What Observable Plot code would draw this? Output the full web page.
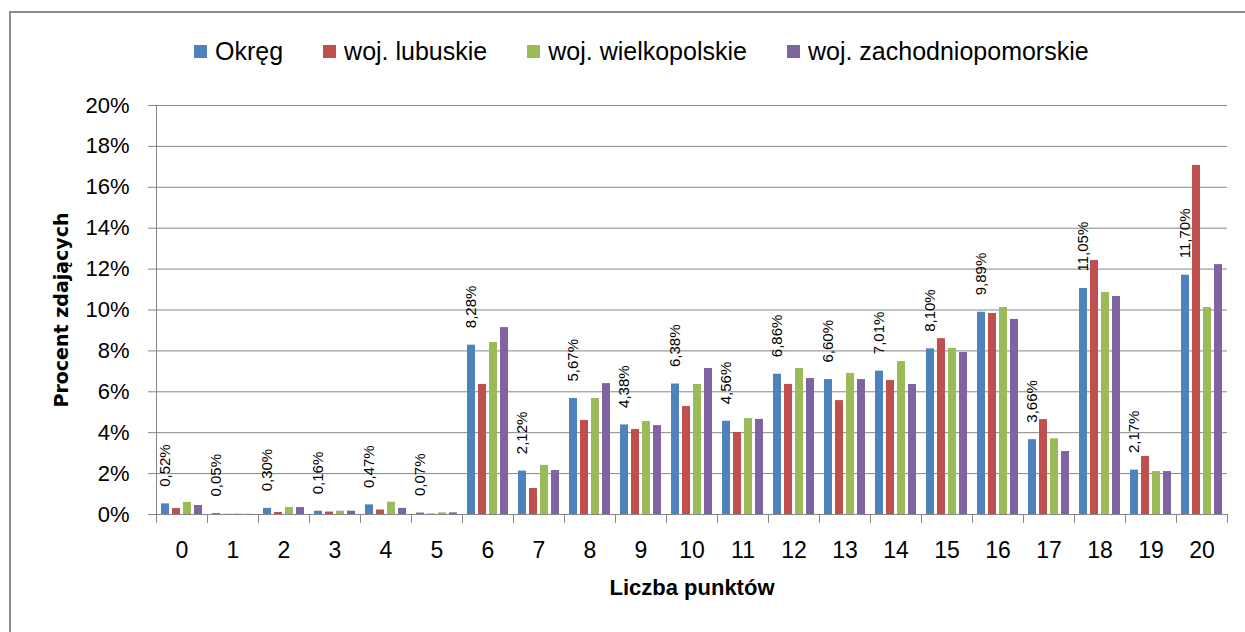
<!DOCTYPE html>
<html><head><meta charset="utf-8">
<script src="https://cdn.jsdelivr.net/npm/d3@7"></script>
<script src="https://cdn.jsdelivr.net/npm/@observablehq/plot@0.6"></script>
<style>
html,body{margin:0;padding:0;background:#fff;}
body{width:1245px;height:632px;position:relative;overflow:hidden;font-family:"Liberation Sans",Arial,sans-serif;color:#000;}
#border{position:absolute;left:9px;top:11px;width:1400px;height:800px;border-left:2px solid #8c8c8c;border-top:2px solid #8c8c8c;}
#legend{position:absolute;left:194px;top:39px;display:flex;font-size:25px;line-height:25px;white-space:nowrap;}
.item{display:flex;align-items:center;margin-right:40px;}
.sw{width:13px;height:13px;margin-right:8px;}
#chart{position:absolute;left:0;top:80px;}
#xtitle{position:absolute;left:542px;width:300px;top:577px;text-align:center;font-size:22px;line-height:22px;font-weight:bold;white-space:nowrap;}
#ytitle{position:absolute;left:61px;top:310px;transform:translate(-50%,-50%) rotate(-90deg);font-family:"DejaVu Sans",Verdana,sans-serif;font-weight:bold;font-size:19px;line-height:19px;white-space:nowrap;}
</style>
</head>
<body>
<div id="border"></div>
<div id="legend"></div>
<div id="chart"></div>
<div id="xtitle"></div>
<div id="ytitle"></div>
<script>
const categories = [0,1,2,3,4,5,6,7,8,9,10,11,12,13,14,15,16,17,18,19,20];
const seriesNames = ["Okręg","woj. lubuskie","woj. wielkopolskie","woj. zachodniopomorskie"];
const okreg = [0.52,0.05,0.30,0.16,0.47,0.07,8.28,2.12,5.67,4.38,6.38,4.56,6.86,6.60,7.01,8.10,9.89,3.66,11.05,2.17,11.70];
const lubuskie = [0.29,0.01,0.10,0.12,0.22,0.02,6.36,1.27,4.60,4.16,5.28,4.01,6.36,5.57,6.55,8.60,9.83,4.64,12.42,2.84,17.07];
const wielkopolskie = [0.59,0.02,0.34,0.16,0.60,0.08,8.41,2.40,5.67,4.55,6.36,4.69,7.14,6.90,7.48,8.12,10.12,3.70,10.86,2.10,10.12];
const zachodniopomorskie = [0.44,0.01,0.34,0.16,0.30,0.08,9.14,2.15,6.40,4.35,7.14,4.65,6.65,6.60,6.36,7.92,9.54,3.08,10.66,2.10,12.22];
const colors = ["#4F81BD","#C0504D","#9BBB59","#8064A2"];
const yTicks = [0,2,4,6,8,10,12,14,16,18,20];
const xTitle = "Liczba punktów";
const yTitle = "Procent zdających";

const seriesValues = [okreg, lubuskie, wielkopolskie, zachodniopomorskie];
const rows = categories.flatMap((c, i) => seriesNames.map((s, j) => ({cat: c, series: s, value: seriesValues[j][i]})));
const labels = categories.map((c, i) => ({cat: c, series: seriesNames[0], value: okreg[i]}));
const fmt = v => v.toFixed(2).replace(".", ",") + "%";

const plot = Plot.plot({
  width: 1245, height: 552,
  marginTop: 25, marginBottom: 118, marginLeft: 154, marginRight: 16,
  style: {fontFamily: '"Liberation Sans", Arial, sans-serif', fontSize: "15px", color: "#000", background: "transparent", overflow: "visible"},
  fx: {domain: categories, padding: 0, axis: null, label: null},
  x: {domain: seriesNames, paddingInner: 0.24, paddingOuter: 0.29, axis: null},
  y: {domain: [0, 20], axis: null},
  color: {domain: seriesNames, range: colors},
  marks: [
    Plot.gridY(yTicks, {stroke: "#868686", strokeOpacity: 1}),
    Plot.axisY(yTicks, {tickFormat: d => d + "%", tickSize: 8, tickPadding: 19, fontSize: 22, stroke: "#868686", label: null}),
    Plot.axisFx({anchor: "bottom", tickSize: 0, tickPadding: 27, fontSize: 23, label: null}),
    Plot.barY(rows, {fx: "cat", x: "series", y: "value", fill: "series"}),
    Plot.text(labels, {fx: "cat", x: "series", y: "value", text: d => fmt(d.value), rotate: -90, textAnchor: "start", dy: -17, fontSize: 15, fill: "#000"})
  ]
});

// axis line and category boundary ticks, from the plot's own scales
const fxS = plot.scale("fx"), yS = plot.scale("y");
const y0 = yS.apply(0), yTop = yS.apply(20);
const edges = categories.map(c => fxS.apply(c)).concat([fxS.apply(categories[categories.length - 1]) + fxS.bandwidth]);
const svg = d3.select(plot);
const g = svg.append("g").attr("stroke", "#868686").attr("stroke-width", 1);
g.append("line").attr("x1", Math.round(edges[0]) + 0.5).attr("x2", Math.round(edges[0]) + 0.5).attr("y1", yTop).attr("y2", y0 + 9);
g.selectAll("line.tk").data(edges).join("line").attr("class", "tk")
  .attr("x1", d => Math.round(d) + 0.5).attr("x2", d => Math.round(d) + 0.5)
  .attr("y1", y0).attr("y2", y0 + 9);

document.getElementById("chart").appendChild(plot);

const legend = d3.select("#legend");
seriesNames.forEach((s, i) => {
  const it = legend.append("div").attr("class", "item");
  it.append("div").attr("class", "sw").style("background", colors[i]);
  it.append("span").text(s);
});
document.getElementById("xtitle").textContent = xTitle;
document.getElementById("ytitle").textContent = yTitle;
</script>
</body></html>
